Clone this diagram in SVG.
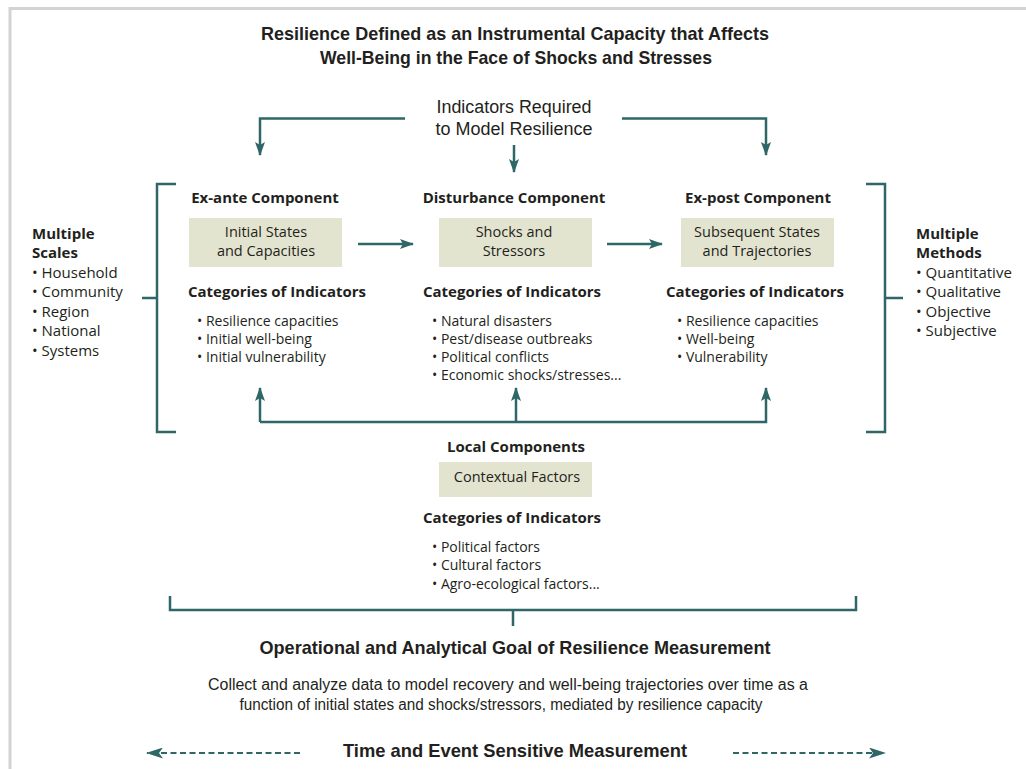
<svg xmlns="http://www.w3.org/2000/svg" width="1026" height="769" viewBox="0 0 1026 769">
  <style>
    .cond { font-family: "Liberation Sans", Arial, sans-serif; fill: #231f20; }
    .condb { font-family: "Liberation Sans", Arial, sans-serif; font-weight: bold; fill: #231f20; }
    .body { font-family: "Open Sans", "Noto Sans", sans-serif; fill: #231f20; }
    .head { font-family: "Open Sans", "Noto Sans", sans-serif; font-weight: bold; fill: #231f20; }
    .box { fill: #e3e4cf; }
    .ln { fill: none; stroke: #2f6667; stroke-width: 2.5; }
    .dash { fill: none; stroke: #2f6667; stroke-width: 1.8; stroke-dasharray: 6 3.5; }
  </style>
  <defs>
    <marker id="ah" viewBox="0 0 14 10" refX="13" refY="5" markerWidth="14" markerHeight="10" markerUnits="userSpaceOnUse" orient="auto">
      <path d="M0,0 L14,5 L0,10 L3,5 z" fill="#2f6667"/>
    </marker>
    <marker id="ahd" viewBox="0 0 17 11" refX="16" refY="5.5" markerWidth="17" markerHeight="11" markerUnits="userSpaceOnUse" orient="auto">
      <path d="M0,0 L17,5.5 L0,11 L4,5.5 z" fill="#2f6667"/>
    </marker>
  </defs>

  <rect width="1026" height="769" fill="#ffffff"/>
  <!-- page frame -->
  <path d="M10,769 V8.5 H1026" fill="none" stroke="#d3d3d3" stroke-width="3"/>

  <!-- title -->
  <g id="title">
    <text class="condb" font-size="18.5" text-anchor="middle" x="515" y="40" textLength="508" lengthAdjust="spacingAndGlyphs">Resilience Defined as an Instrumental Capacity that Affects</text>
    <text class="condb" font-size="18.5" text-anchor="middle" x="516" y="64" textLength="392" lengthAdjust="spacingAndGlyphs">Well-Being in the Face of Shocks and Stresses</text>
  </g>

  <g id="indicators-required">
    <text class="cond" font-size="18" text-anchor="middle" x="514" y="113" textLength="155" lengthAdjust="spacingAndGlyphs">Indicators Required</text>
    <text class="cond" font-size="18" text-anchor="middle" x="514" y="135" textLength="157" lengthAdjust="spacingAndGlyphs">to Model Resilience</text>
  </g>

  <!-- connectors -->
  <g id="connectors">
    <path class="ln" d="M405,118.5 H260 V155" marker-end="url(#ah)"/>
    <path class="ln" d="M622,118.5 H766 V155" marker-end="url(#ah)"/>
    <path class="ln" d="M514,145 V172" marker-end="url(#ah)"/>
    <path class="ln" d="M358,244 H413" marker-end="url(#ah)"/>
    <path class="ln" d="M607,244 H662" marker-end="url(#ah)"/>
    <path class="ln" d="M260,422 H766 V388" marker-end="url(#ah)"/>
    <path class="ln" d="M260,422 V388" marker-end="url(#ah)"/>
    <path class="ln" d="M516,422 V388" marker-end="url(#ah)"/>
    <!-- side brackets -->
    <path class="ln" d="M176,184 H157 V432 H176 M142,298 H157"/>
    <path class="ln" d="M866,184 H885 V432 H866 M885,298 H903"/>
    <!-- bottom bracket -->
    <path class="ln" d="M170,596 V610 H856 V596 M513,610 V626"/>
    <!-- time arrows -->
    <path class="dash" d="M300,753 H147" marker-end="url(#ahd)"/>
    <path class="dash" d="M733,753 H885" marker-end="url(#ahd)"/>
  </g>

  <g id="multiple-scales">
    <text class="head" font-size="15" x="32" y="239">Multiple</text>
    <text class="head" font-size="15" x="32" y="258">Scales</text>
    <text class="body" font-size="15" x="32" y="278">• Household</text>
    <text class="body" font-size="15" x="32" y="297">• Community</text>
    <text class="body" font-size="15" x="32" y="317">• Region</text>
    <text class="body" font-size="15" x="32" y="336">• National</text>
    <text class="body" font-size="15" x="32" y="356">• Systems</text>
  </g>

  <g id="multiple-methods">
    <text class="head" font-size="15" x="916" y="239">Multiple</text>
    <text class="head" font-size="15" x="916" y="258">Methods</text>
    <text class="body" font-size="15" x="916" y="278">• Quantitative</text>
    <text class="body" font-size="15" x="916" y="297">• Qualitative</text>
    <text class="body" font-size="15" x="916" y="317">• Objective</text>
    <text class="body" font-size="15" x="916" y="336">• Subjective</text>
  </g>

  <g id="ex-ante">
    <text class="head" font-size="15" text-anchor="middle" x="265" y="203">Ex-ante Component</text>
    <rect class="box" x="189" y="218" width="153" height="49"/>
    <text class="body" font-size="14.5" text-anchor="middle" x="266" y="237">Initial States</text>
    <text class="body" font-size="14.5" text-anchor="middle" x="266" y="256">and Capacities</text>
    <text class="head" font-size="15" text-anchor="middle" x="277" y="297">Categories of Indicators</text>
    <text class="body" font-size="14" x="197" y="326">• Resilience capacities</text>
    <text class="body" font-size="14" x="197" y="344">• Initial well-being</text>
    <text class="body" font-size="14" x="197" y="362">• Initial vulnerability</text>
  </g>

  <g id="disturbance">
    <text class="head" font-size="15" text-anchor="middle" x="514" y="203">Disturbance Component</text>
    <rect class="box" x="439" y="218" width="153" height="49"/>
    <text class="body" font-size="14.5" text-anchor="middle" x="514" y="237">Shocks and</text>
    <text class="body" font-size="14.5" text-anchor="middle" x="514" y="256">Stressors</text>
    <text class="head" font-size="15" text-anchor="middle" x="512" y="297">Categories of Indicators</text>
    <text class="body" font-size="14" x="432" y="326">• Natural disasters</text>
    <text class="body" font-size="14" x="432" y="344">• Pest/disease outbreaks</text>
    <text class="body" font-size="14" x="432" y="362">• Political conflicts</text>
    <text class="body" font-size="14" x="432" y="380">• Economic shocks/stresses...</text>
  </g>

  <g id="ex-post">
    <text class="head" font-size="15" text-anchor="middle" x="758" y="203">Ex-post Component</text>
    <rect class="box" x="681" y="218" width="153" height="49"/>
    <text class="body" font-size="14.5" text-anchor="middle" x="757" y="237">Subsequent States</text>
    <text class="body" font-size="14.5" text-anchor="middle" x="757" y="256">and Trajectories</text>
    <text class="head" font-size="15" text-anchor="middle" x="755" y="297">Categories of Indicators</text>
    <text class="body" font-size="14" x="677" y="326">• Resilience capacities</text>
    <text class="body" font-size="14" x="677" y="344">• Well-being</text>
    <text class="body" font-size="14" x="677" y="362">• Vulnerability</text>
  </g>

  <g id="local">
    <text class="head" font-size="15" text-anchor="middle" x="516" y="452">Local Components</text>
    <rect class="box" x="439" y="462" width="153" height="35"/>
    <text class="body" font-size="14.5" text-anchor="middle" x="517" y="482">Contextual Factors</text>
    <text class="head" font-size="15" text-anchor="middle" x="512" y="523">Categories of Indicators</text>
    <text class="body" font-size="14" x="432" y="552">• Political factors</text>
    <text class="body" font-size="14" x="432" y="570">• Cultural factors</text>
    <text class="body" font-size="14" x="432" y="589">• Agro-ecological factors...</text>
  </g>

  <g id="goal">
    <text class="condb" font-size="18.5" text-anchor="middle" x="515" y="654" textLength="511" lengthAdjust="spacingAndGlyphs">Operational and Analytical Goal of Resilience Measurement</text>
    <text class="cond" font-size="16" text-anchor="middle" x="508" y="690" textLength="600" lengthAdjust="spacingAndGlyphs">Collect and analyze data to model recovery and well-being trajectories over time as a</text>
    <text class="cond" font-size="16" text-anchor="middle" x="501" y="710" textLength="523" lengthAdjust="spacingAndGlyphs">function of initial states and shocks/stressors, mediated by resilience capacity</text>
  </g>

  <g id="time">
    <text class="condb" font-size="18.5" text-anchor="middle" x="515" y="757" textLength="344" lengthAdjust="spacingAndGlyphs">Time  and Event Sensitive Measurement</text>
  </g>
</svg>
